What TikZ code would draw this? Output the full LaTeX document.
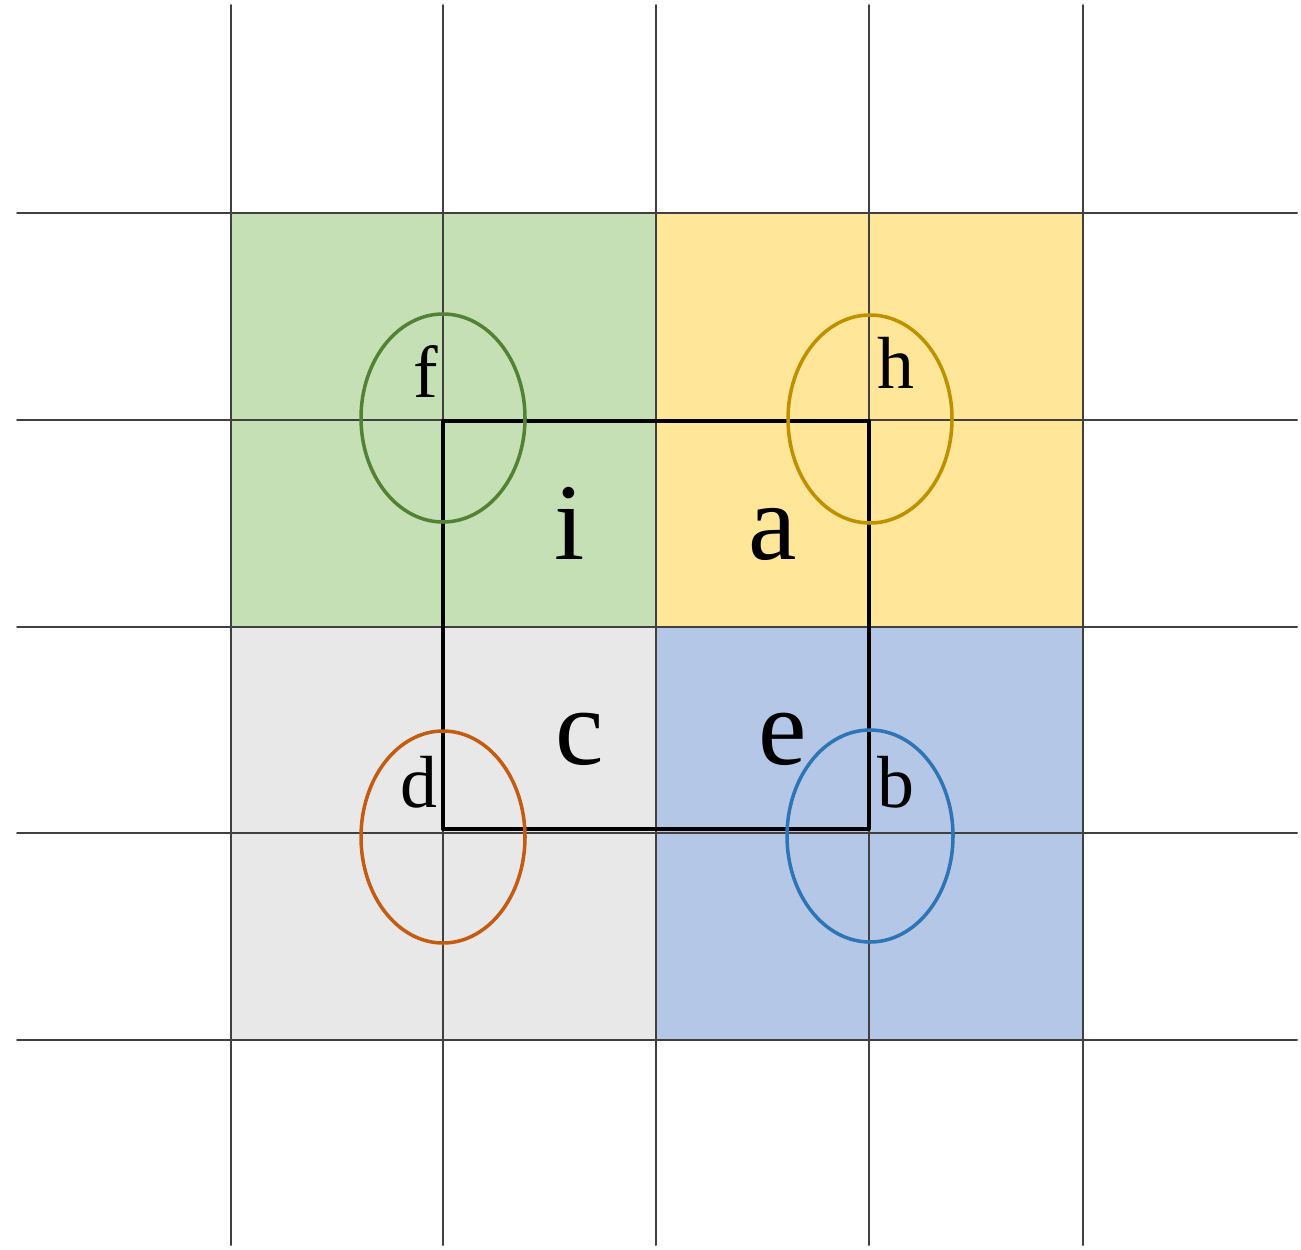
\documentclass[tikz,border=0pt]{standalone}
\usepackage{fontspec}
\setmainfont{Liberation Serif}

\definecolor{cellgreen}{HTML}{C5E0B4}
\definecolor{cellyellow}{HTML}{FFE699}
\definecolor{cellgray}{HTML}{E8E8E8}
\definecolor{cellblue}{HTML}{B4C7E7}
\definecolor{ringgreen}{HTML}{548235}
\definecolor{ringgold}{HTML}{BF9000}
\definecolor{ringorange}{HTML}{C55A11}
\definecolor{ringblue}{HTML}{2E75B6}

\tikzset{
  gridline/.style={draw=black!75, line width=0.55pt},
  ring/.style={line width=1pt},
  corner/.style={anchor=base, font=\fontsize{21}{25}\selectfont},
  cellname/.style={anchor=base, font=\fontsize{31}{37}\selectfont}
}

\begin{document}
\begin{tikzpicture}[
  x=0.01cm,
  y=-0.01cm,
  line cap=round,
  line join=round
]
  \useasboundingbox (0,0) rectangle (1301,1249);

  % coloured cells
  \fill[cellgreen]  (231,213) rectangle (656,627);
  \fill[cellyellow] (656,213) rectangle (1083,627);
  \fill[cellgray]   (231,627) rectangle (656,1040);
  \fill[cellblue]   (656,627) rectangle (1083,1040);

  % grid
  \foreach \x in {231,443,656,869,1083}
    \draw[gridline] (\x,5) -- (\x,1245);
  \foreach \y in {213,420,627,833,1040}
    \draw[gridline] (17,\y) -- (1297,\y);

  % window
  \draw[line width=1.15pt] (443,421) rectangle (869,829);

  % sample rings
  \draw[ring, ringgreen]  (443,418) ellipse [x radius=82, y radius=104];
  \draw[ring, ringgold]   (870,419) ellipse [x radius=82, y radius=104];
  \draw[ring, ringorange] (443,837) ellipse [x radius=82, y radius=106];
  \draw[ring, ringblue]   (870,836) ellipse [x radius=83, y radius=106];

  % labels
  \node[corner] (f) at (426,397) {f};
  \node[corner] (h) at (896,388) {h};
  \node[corner] (d) at (419,807) {d};
  \node[corner] (b) at (896,807) {b};

  \node[cellname] (i) at (570,559) {i};
  \node[cellname] (a) at (773,559) {a};
  \node[cellname] (c) at (580,764) {c};
  \node[cellname] (e) at (783,764) {e};
\end{tikzpicture}
\end{document}
